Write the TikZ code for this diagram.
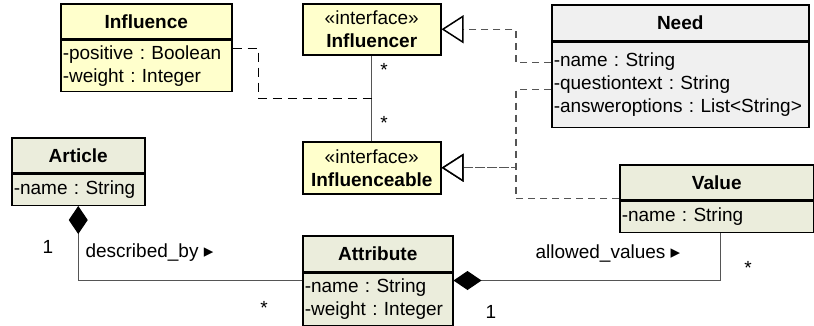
\documentclass[tikz,border=0pt]{standalone}
\usepackage{fontspec}
\setmainfont{Liberation Sans}
\newfontfamily\symfont{DejaVu Sans}
\usetikzlibrary{arrows.meta,positioning,calc}
\definecolor{ifacecolor}{RGB}{255,255,204}
\definecolor{classcolor}{RGB}{235,237,220}
\definecolor{needcolor}{RGB}{240,240,240}
\definecolor{linegray}{RGB}{85,85,85}
\newcommand{\umlfont}{\fontsize{19}{23}\selectfont\frenchspacing}
\tikzset{
  classhead/.style={draw, line width=1.5pt, inner sep=0pt, minimum height=35pt, font=\umlfont\bfseries, anchor=north west},
  classbody/.style={draw, line width=1.5pt, inner xsep=2pt, inner ysep=0pt, align=left},
  assocline/.style={draw=linegray, line width=1pt},
  realize/.style={draw=linegray, line width=1.2pt, dash pattern=on 7pt off 5pt,
    -{Triangle[length=22pt, width=28pt, line width=1.5pt, color=black, fill=white]}},
  compose/.style={{Diamond[length=28pt, width=19pt, color=black]}-},
  mult/.style={inner sep=0pt}
}

\begin{document}
\begin{tikzpicture}[x=1pt, y=-1pt, font=\umlfont]
    \useasboundingbox (0,0) rectangle (814,325);

    % Interfaces
    \node[classhead, fill=ifacecolor, font=\umlfont, align=center, minimum width=138pt, minimum height=51pt] (influencer) at (302,3) {«interface»\\\textbf{Influencer}};
    \node[classhead, fill=ifacecolor, font=\umlfont, align=center, minimum width=138pt, minimum height=52pt] (influenceable) at (302,141) {«interface»\\\textbf{Influenceable}};

    % Influence
    \node[classhead, fill=ifacecolor, minimum width=171pt] (influence) at (60,3) {Influence};
    \node[classbody, fill=ifacecolor, text width=167pt, minimum height=51pt, below=0pt of influence] (influence-attr) {-positive : Boolean\\-weight : Integer};

    % Need
    \node[classhead, fill=needcolor, minimum width=257pt, minimum height=36pt] (need) at (551,4) {Need};
    \node[classbody, fill=needcolor, text width=253pt, minimum height=85pt, below=0pt of need] (need-attr) {-name : String\\-questiontext : String\\-answeroptions : List<String>};

    % Article
    \node[classhead, fill=classcolor, minimum width=133pt] (article) at (11,137) {Article};
    \node[classbody, fill=classcolor, text width=129pt, minimum height=31pt, below=0pt of article] (article-attr) {-name : String};

    % Attribute
    \node[classhead, fill=classcolor, minimum width=150pt, minimum height=36pt] (attribute) at (302,235) {Attribute};
    \node[classbody, fill=classcolor, text width=146pt, minimum height=52pt, below=0pt of attribute] (attribute-attr) {-name : String\\-weight : Integer};

    % Value
    \node[classhead, fill=classcolor, minimum width=194pt] (value) at (619,164) {Value};
    \node[classbody, fill=classcolor, text width=190pt, minimum height=31pt, below=0pt of value] (value-attr) {-name : String};

    % Influence association
    \coordinate (assoc) at ($(influencer.south)!0.5!(influenceable.north)$);
    \draw[assocline] (influencer) -- (influenceable);
    \draw[black, line width=1.2pt, dash pattern=on 9pt off 6pt] ([yshift=-9pt]influence-attr.north east) -- ++(26,0) |- (assoc);
    \node[mult] (m-influencer) at (384,70) {*};
    \node[mult] (m-influenceable) at (384,123) {*};

    % Realizations
    \draw[realize] ([yshift=-21pt]need-attr.north west) -- ++(-35,0) |- (influencer.east);
    \draw[realize] ([yshift=-48pt]need-attr.north west) -- ++(-35,0) |- (influenceable.east);
    \draw[realize] ([yshift=2pt]value.south west) -- ++(-103,0) |- (influenceable.east);

    % Compositions
    \draw[assocline, compose] (article-attr.south) |- ([yshift=-8pt]attribute-attr.north west);
    \node[mult] (m-article) at (48,247) {1};
    \node[anchor=west] (lbl-described) at (82,253) {described\_by {\symfont ▸}};
    \node[mult] (m-attr-left) at (264,308) {*};

    \draw[assocline, compose] ([yshift=-8pt]attribute-attr.north east) -| ([xshift=4pt]value-attr.south);
    \node[mult] (m-attr-right) at (491,312) {1};
    \node[anchor=west] (lbl-allowed) at (532,253) {allowed\_values {\symfont ▸}};
    \node[mult] (m-value) at (748,268) {*};
\end{tikzpicture}
\end{document}
